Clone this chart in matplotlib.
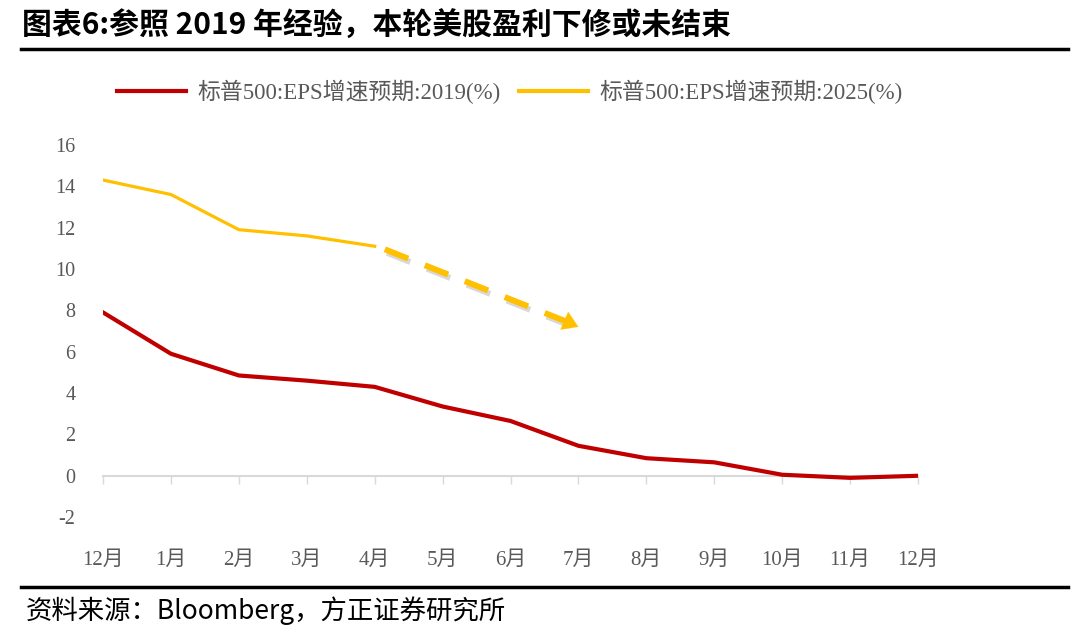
import matplotlib.pyplot as plt
import matplotlib.patheffects as pe
from matplotlib.lines import Line2D

# data
months = ['12月', '1月', '2月', '3月', '4月', '5月', '6月', '7月', '8月', '9月', '10月', '11月', '12月']
eps_2019 = [7.9, 5.9, 4.85, 4.6, 4.3, 3.35, 2.65, 1.45, 0.85, 0.65, 0.05, -0.1, 0.0]
eps_2025 = [14.3, 13.6, 11.9, 11.6, 11.1]
label_2019 = '标普500:EPS增速预期:2019(%)'
label_2025 = '标普500:EPS增速预期:2025(%)'
y_ticks = [-2, 0, 2, 4, 6, 8, 10, 12, 14, 16]
# dashed trend arrow (start / tip, data coords)
arrow_start = (4.15, 10.95)
arrow_tip = (7.0, 7.2)

title = '图表6:参照 2019 年经验，本轮美股盈利下修或未结束'
source = '资料来源：Bloomberg，方正证券研究所'

red = '#C00000'
yellow = '#FFC000'
grey = '#595959'
serif = ['Liberation Serif', 'Noto Sans CJK SC']
sans = ['Noto Sans CJK SC', 'DejaVu Sans']
plt.rcParams['font.family'] = serif

fig = plt.figure(figsize=(10.8, 6.44), dpi=100)
ax = fig.add_axes([0.0954, 0.197, 0.7546, 0.578])

x = list(range(len(months)))
ax.plot(x, eps_2019, color=red, lw=3, solid_joinstyle='round', zorder=4)
ax.plot(x[:len(eps_2025)], eps_2025, color=yellow, lw=2.3, solid_joinstyle='round', zorder=4)

# dashed arrow with a soft shadow
ax.plot([arrow_start[0], arrow_tip[0] - 0.15], [arrow_start[1], arrow_tip[1] + 0.22],
        color=yellow, lw=4.3, dashes=(4.2, 3.0), zorder=4,
        path_effects=[pe.SimpleLineShadow(offset=(1.5, -2.5), shadow_color='grey', alpha=0.3), pe.Normal()])
ax.annotate('', xy=arrow_tip, xytext=(arrow_tip[0] - 0.35, arrow_tip[1] + 0.5),
            arrowprops=dict(arrowstyle='-|>,head_length=1.1,head_width=0.7', color=yellow, lw=0.1,
                            shrinkA=0, shrinkB=0),
            zorder=4)

ax.set_xlim(0, 12)
ax.set_ylim(-2, 16)
ax.set_yticks(y_ticks)
ax.set_yticklabels([str(v) for v in y_ticks])
ax.set_xticks(x)
ax.set_xticklabels(months)

for s in ['top', 'right', 'left']:
    ax.spines[s].set_visible(False)
ax.spines['bottom'].set_position(('data', 0))
ax.spines['bottom'].set_color('#d9d9d9')
ax.spines['bottom'].set_linewidth(1.5)
ax.tick_params(axis='y', length=0, pad=20, labelsize=14.5, labelcolor=grey)
ax.tick_params(axis='x', direction='out', length=6, width=1, color='#d9d9d9', pad=48,
               labelsize=15, labelcolor=grey)

handles = [Line2D([], [], color=red, lw=3), Line2D([], [], color=yellow, lw=3)]
fig.legend(handles, [label_2019, label_2025], loc='center', bbox_to_anchor=(0.472, 1 - 92 / 644),
           ncol=2, frameon=False, handlelength=3.0, columnspacing=0.8, handletextpad=0.5,
           prop={'size': 16.5}, labelcolor=grey)

fig.text(0.02, 1 - 26 / 644, title, family=sans, fontsize=21.5, fontweight='bold', va='center', ha='left')
fig.add_artist(Line2D([0.019, 0.989], [1 - 49 / 644, 1 - 49 / 644], color='black', lw=2.5))
fig.add_artist(Line2D([0.019, 0.989], [1 - 587 / 644, 1 - 587 / 644], color='black', lw=2.5))
fig.text(0.024, 1 - 611 / 644, source, family=sans, fontsize=19, style='italic', va='center', ha='left')

fig.savefig('out.png', dpi=100)
